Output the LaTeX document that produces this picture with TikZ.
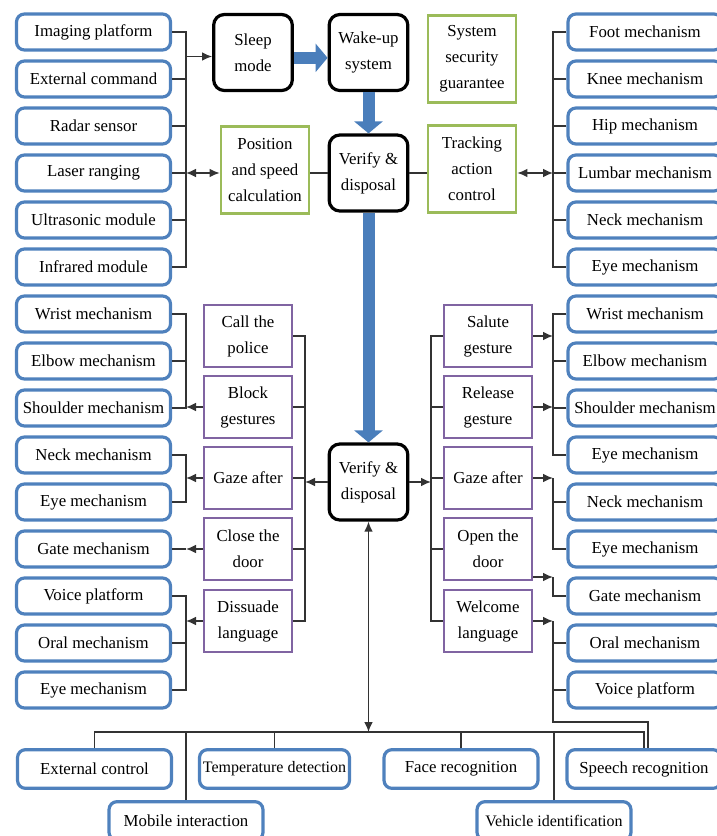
\documentclass[tikz,border=0pt]{standalone}
\usepackage{fontspec}
\setmainfont{Liberation Serif}
\usetikzlibrary{arrows.meta}

\definecolor{boxblue}{RGB}{79,129,189}
\definecolor{boxgreen}{RGB}{155,187,89}
\definecolor{boxpurple}{RGB}{128,100,162}
\definecolor{arrowblue}{RGB}{74,126,187}

\tikzset{
  mech/.style={draw=boxblue, line width=2.4pt, rounded corners=6pt, minimum width=115.5pt, minimum height=27pt, inner sep=1pt},
  stage/.style={draw=black, line width=2.4pt, rounded corners=8pt, minimum width=59pt, minimum height=57pt, align=center, inner sep=1pt},
  task/.style={draw=boxgreen, line width=2.1pt, minimum width=66pt, minimum height=65pt, align=center, inner sep=1pt},
  act/.style={draw=boxpurple, line width=2.1pt, minimum width=66pt, minimum height=46.5pt, align=center, inner sep=1pt},
  conn/.style={line width=1pt, draw=black!80},
  bigarrow/.style={draw=arrowblue, line width=9pt, -{Triangle[width=21pt,length=9pt]}},
  >={Latex[length=7.5pt,width=6.5pt]}
}

\begin{document}
\begin{tikzpicture}[x=0.75pt,y=-0.75pt,font=\fontsize{12.6}{19.5}\selectfont]
\useasboundingbox (0,0) rectangle (717,836);
\clip (0,0) rectangle (717,836);

\coordinate (busL) at (186,0);
\coordinate (busR) at (553,0);
\coordinate (busLP) at (305,0);
\coordinate (busRP) at (431,0);
\coordinate (busB) at (0,732);
\coordinate (turn) at (0,722);

\node[mech] (img) at (93.5,32) {Imaging platform};
\node[mech] (cmd) at (93.5,79) {External command};
\node[mech] (radar) at (93.5,126) {Radar sensor};
\node[mech] (laser) at (93.5,173) {Laser ranging};
\node[mech] (ultra) at (93.5,220) {Ultrasonic module};
\node[mech] (infra) at (93.5,267) {Infrared module};

\node[mech] (foot) at (645,32) {Foot mechanism};
\node[mech] (knee) at (645,79) {Knee mechanism};
\node[mech] (hip) at (645,126) {Hip mechanism};
\node[mech] (lumbar) at (645,173) {Lumbar mechanism};
\node[mech] (neckA) at (645,220) {Neck mechanism};
\node[mech] (eyeA) at (645,267) {Eye mechanism};

\node[stage] (sleep) at (253,52.5) {Sleep\\mode};
\node[stage] (wake) at (368.5,52.5) {Wake-up\\system};
\node[task] (safe) at (472,59) {System\\security\\guarantee};
\node[task] (pos) at (265,170) {Position\\and speed\\calculation};
\node[stage] (ver1) at (368.5,173) {Verify \&\\disposal};
\node[task] (track) at (472,169) {Tracking\\action\\control};

\node[mech] (wristL) at (93.5,314) {Wrist mechanism};
\node[mech] (elbowL) at (93.5,361) {Elbow mechanism};
\node[mech] (shoulderL) at (93.5,408) {Shoulder mechanism};
\node[mech] (neckL) at (93.5,455) {Neck mechanism};
\node[mech] (eyeL1) at (93.5,502) {Eye mechanism};
\node[mech] (gateL) at (93.5,549) {Gate mechanism};
\node[mech] (voiceL) at (93.5,596) {Voice platform};
\node[mech] (oralL) at (93.5,643) {Oral mechanism};
\node[mech] (eyeL2) at (93.5,690) {Eye mechanism};

\node[act] (police) at (248,336) {Call the\\police};
\node[act] (block) at (248,407) {Block\\gestures};
\node[act] (gazeL) at (248,478) {Gaze after};
\node[act] (close) at (248,549) {Close the\\door};
\node[act] (dissuade) at (248,621) {Dissuade\\language};

\node[stage] (ver2) at (368.5,482) {Verify \&\\disposal};

\node[act] (salute) at (488,336) {Salute\\gesture};
\node[act] (release) at (488,407) {Release\\gesture};
\node[act] (gazeR) at (488,478) {Gaze after};
\node[act] (open) at (488,549) {Open the\\door};
\node[act] (welcome) at (488,621) {Welcome\\language};

\node[mech] (wristR) at (645,314) {Wrist mechanism};
\node[mech] (elbowR) at (645,361) {Elbow mechanism};
\node[mech] (shoulderR) at (645,408) {Shoulder mechanism};
\node[mech] (eyeR1) at (645,455) {Eye mechanism};
\node[mech] (neckR) at (645,502) {Neck mechanism};
\node[mech] (eyeR2) at (645,549) {Eye mechanism};
\node[mech] (gateR) at (645,596) {Gate mechanism};
\node[mech] (oralR) at (645,643) {Oral mechanism};
\node[mech] (voiceR) at (645,690) {Voice platform};

\node[mech, minimum height=29pt] (ext) at (94.5,769) {External control};
\node[mech, minimum height=29pt, minimum width=112.5pt, font=\fontsize{12}{14}\selectfont] (temp) at (274.5,769) {Temperature detection};
\node[mech, minimum height=29pt] (face) at (461,769) {Face recognition};
\node[mech, minimum height=29pt] (speech) at (644,769) {Speech recognition};
\node[mech, minimum height=29pt] (mobile) at (186,821) {Mobile interaction};
\node[mech, minimum height=29pt, font=\fontsize{12}{14}\selectfont] (vehicle) at (554,821) {Vehicle identification};

\coordinate (openOut) at ([yshift=-21pt]open.east);
\coordinate (spIn) at ([xshift=3pt]speech.north);

\draw[bigarrow] ([yshift=-4pt]sleep.east) -- ([yshift=-4pt]wake.west);
\draw[bigarrow] (wake.south) -- (ver1.north);
\draw[bigarrow] (ver1.south) -- (ver2.north);

\draw[conn] (img.east) -| (infra.east -| busL) -- (infra.east);
\draw[conn] (cmd.east) -- (cmd.east -| busL);
\draw[conn] (radar.east) -- (radar.east -| busL);
\draw[conn] (laser.east) -- (laser.east -| busL);
\draw[conn] (ultra.east) -- (ultra.east -| busL);
\draw[conn,->] ([yshift=-3pt]sleep.west -| busL) -- ([yshift=-3pt]sleep.west);
\draw[conn,<->] (laser.east -| busL) -- (pos.west |- laser.east);
\draw[conn] (pos.east |- ver1.west) -- (ver1.west);
\draw[conn] (ver1.east) -- (track.west |- ver1.east);
\draw[conn,<->] (track.east |- lumbar.west) -- (lumbar.west -| busR);
\draw[conn] (foot.west) -| (eyeA.west -| busR) -- (eyeA.west);
\draw[conn] (knee.west) -- (knee.west -| busR);
\draw[conn] (hip.west) -- (hip.west -| busR);
\draw[conn] (lumbar.west) -- (lumbar.west -| busR);
\draw[conn] (neckA.west) -- (neckA.west -| busR);

\draw[conn] (police.east) -| (dissuade.east -| busLP) -- (dissuade.east);
\draw[conn] (block.east) -- (block.east -| busLP);
\draw[conn] (gazeL.east) -- (gazeL.east -| busLP);
\draw[conn] (close.east) -- (close.east -| busLP);
\draw[conn,->] (ver2.west) -- (ver2.west -| busLP);

\draw[conn,->] (block.west) -- (block.west -| busL);
\draw[conn] (wristL.east) -| (shoulderL.east -| busL) -- (shoulderL.east);
\draw[conn] (elbowL.east) -- (elbowL.east -| busL);
\draw[conn,->] (gazeL.west) -- (gazeL.west -| busL);
\draw[conn] (neckL.east) -| (eyeL1.east -| busL) -- (eyeL1.east);
\draw[conn,->] (close.west) -- (close.west -| busL);
\draw[conn] (close.west -| busL) -- (gateL.east);
\draw[conn,->] (dissuade.west) -- (dissuade.west -| busL);
\draw[conn] (voiceL.east) -| (eyeL2.east -| busL) -- (eyeL2.east);
\draw[conn] (oralL.east) -- (oralL.east -| busL);

\draw[conn] (salute.west) -| (welcome.west -| busRP) -- (welcome.west);
\draw[conn] (release.west) -- (release.west -| busRP);
\draw[conn] (gazeR.west) -- (gazeR.west -| busRP);
\draw[conn] (open.west) -- (open.west -| busRP);
\draw[conn,->] (ver2.east) -- (ver2.east -| busRP);

\draw[conn,->] (salute.east) -- (salute.east -| busR);
\draw[conn,->] (release.east) -- (release.east -| busR);
\draw[conn] (wristR.west) -| (eyeR1.west -| busR) -- (eyeR1.west);
\draw[conn] (elbowR.west) -- (elbowR.west -| busR);
\draw[conn] (shoulderR.west) -- (shoulderR.west -| busR);
\draw[conn,->] (gazeR.east) -- (gazeR.east -| busR);
\draw[conn] (gazeR.east -| busR) |- (eyeR2.west);
\draw[conn] (neckR.west) -- (neckR.west -| busR);
\draw[conn,->] (openOut) -- (openOut -| busR);
\draw[conn] (openOut -| busR) |- (gateR.west);
\draw[conn,->] (welcome.east) -- (welcome.east -| busR);
\draw[conn] (welcome.east -| busR) |- (spIn |- turn) -- (spIn);
\draw[conn] (oralR.west) -- (oralR.west -| busR);
\draw[conn] (voiceR.west) -- (voiceR.west -| busR);

\draw[conn,<->] (ver2.south) -- (ver2.south |- busB);
\draw[conn] (ext.north) |- (speech.north |- busB) -- (speech.north);
\draw[conn] (mobile.north) -- (mobile.north |- busB);
\draw[conn] (temp.north) -- (temp.north |- busB);
\draw[conn] (face.north) -- (face.north |- busB);
\draw[conn] (vehicle.north) -- (vehicle.north |- busB);
\end{tikzpicture}
\end{document}
